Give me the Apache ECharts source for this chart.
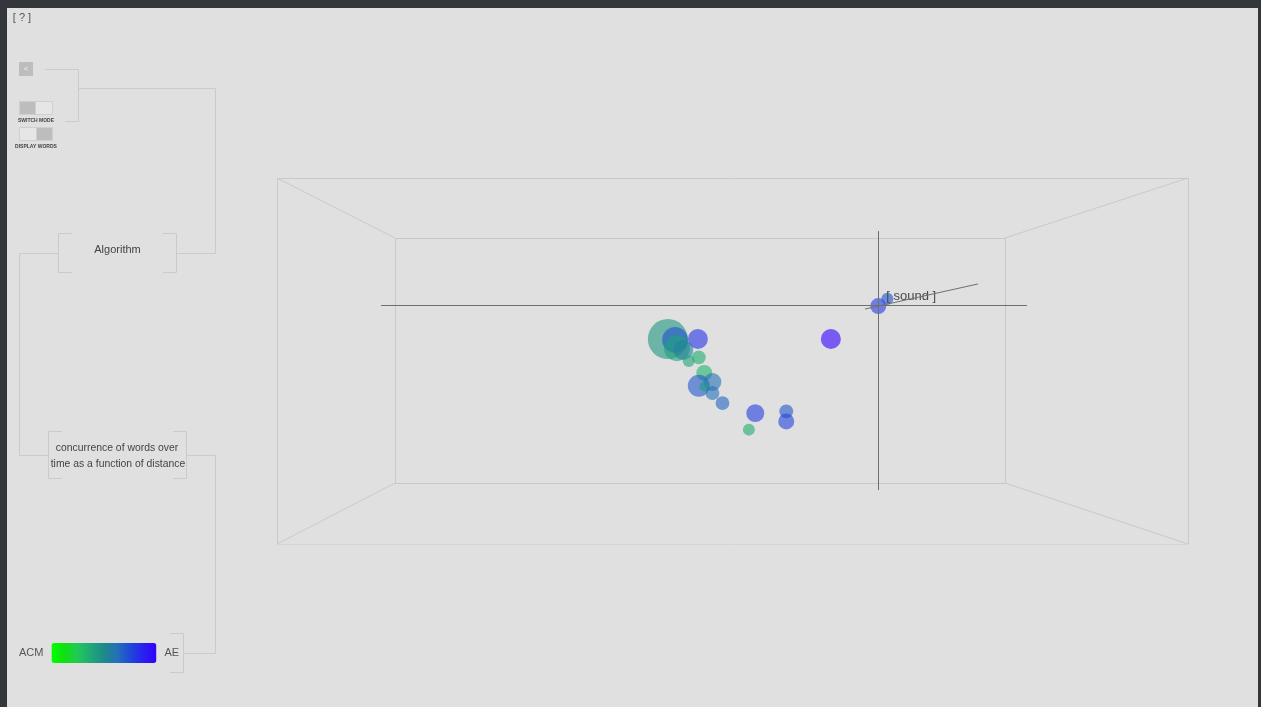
<!DOCTYPE html>
<html>
<head>
<meta charset="utf-8">
<script src="https://cdn.jsdelivr.net/npm/echarts@6/dist/echarts.min.js"></script>
<style>
html,body{margin:0;padding:0;background:#e0e0e0;}
#chart{width:1261px;height:707px;}
</style>
</head>
<body>
<div id="chart"></div>
<script>
// ---- data (scene units: x 0..100, y 0..40) ----
var wordX = [42.9, 43.7, 46.2, 43.9, 44.6, 46.3, 45.2, 46.9, 46.3, 47.8, 46.9, 47.8, 48.9, 52.5, 51.8, 55.9, 55.9, 60.8, 66.0, 67.0];
var wordY = [22.4, 22.3, 22.4, 21.4, 21.2, 20.4, 20.0, 18.7, 17.3, 17.7, 17.2, 16.5, 15.4, 14.3, 12.5, 14.5, 13.4, 22.4, 26.0, 26.8];
var wordCount = [100, 42, 25, 42, 25, 12, 9, 16, 30, 20, 6, 12, 12, 20, 9, 12, 16, 25, 16, 9];
var wordSource = [0.45, 0.72, 0.82, 0.4, 0.55, 0.35, 0.38, 0.33, 0.7, 0.62, 0.42, 0.62, 0.66, 0.78, 0.35, 0.7, 0.77, 1.0, 0.8, 0.72];
var focusWord = 'sound';
var focusIndex = 18;
var sourceNames = ['ACM', 'AE'];
var sourceColors = ['#00ff00', '#10e010', '#22c858', '#20a878', '#1e8a88', '#2570b8', '#1f48d8', '#2a20f0', '#3300ff'];

// scene frame (outer box, inner box) and focus crosshair, in scene units
var outerBox = [[0, 0], [100, 0], [100, 40], [0, 40]];
var innerBox = [[12.95, 6.67], [79.91, 6.67], [79.91, 33.44], [12.95, 33.44]];
var crossV = [[65.97, 5.9], [65.97, 34.2]];
var crossH = [[11.42, 26.12], [82.33, 26.12]];
var crossZ = [[64.55, 25.68], [76.95, 28.42]];

var panelText = {
  help: '[ ? ]',
  back: '<',
  switchMode: 'SWITCH MODE',
  displayWords: 'DISPLAY WORDS',
  algorithm: 'Algorithm',
  desc1: 'concurrence of words over',
  desc2: 'time as a function of distance'
};

// ---- build ----
var frameSegs = [];
for (var i = 0; i < 4; i++) {
  frameSegs.push({coords: [outerBox[i], outerBox[(i + 1) % 4]]});
  frameSegs.push({coords: [innerBox[i], innerBox[(i + 1) % 4]]});
  frameSegs.push({coords: [outerBox[i], innerBox[i]]});
}
var crossSegs = [{coords: crossV}, {coords: crossH}, {coords: crossZ}];

var scatterData = wordX.map(function (x, i) {
  return [x, wordY[i], wordCount[i], wordSource[i]];
});

var LINE = '#cbcbcb';
var FONT = '"Liberation Sans", Arial, Helvetica, sans-serif';
function seg(x1, y1, x2, y2) {
  return {type: 'line', silent: true, shape: {x1: x1, y1: y1, x2: x2, y2: y2},
    style: {stroke: LINE, lineWidth: 1}};
}
function txt(x, y, s, size, color, weight) {
  return {type: 'text', silent: true, x: x, y: y,
    style: {text: s, font: (weight || 'normal') + ' ' + size + 'px ' + FONT, fill: color,
      align: 'center', verticalAlign: 'middle'}};
}

var graphics = [
  // page border
  {type: 'rect', shape: {x: 0, y: 0, width: 1261, height: 8}, style: {fill: '#33373b'}, silent: true},
  {type: 'rect', shape: {x: 0, y: 0, width: 7, height: 707}, style: {fill: '#33373b'}, silent: true},
  {type: 'rect', shape: {x: 1258, y: 0, width: 3, height: 707}, style: {fill: '#33373b'}, silent: true},
  txt(22, 17.5, panelText.help, 11, '#555'),
  // back button
  {type: 'rect', silent: true, shape: {x: 19, y: 62, width: 14, height: 14}, style: {fill: '#bdbdbd', stroke: null}},
  txt(26, 69, panelText.back, 7, '#f4f4f4'),
  // toggles
  {type: 'rect', silent: true, shape: {x: 19.5, y: 101.5, width: 33, height: 13}, style: {fill: '#e6e6e6', stroke: '#cfcfcf'}},
  {type: 'rect', silent: true, shape: {x: 19.5, y: 101.5, width: 16, height: 13}, style: {fill: '#bdbdbd', stroke: '#cfcfcf'}},
  txt(36, 121, panelText.switchMode, 5, '#444', 'bold'),
  {type: 'rect', silent: true, shape: {x: 19.5, y: 127.5, width: 33, height: 13}, style: {fill: '#e6e6e6', stroke: '#cfcfcf'}},
  {type: 'rect', silent: true, shape: {x: 36.5, y: 127.5, width: 16, height: 13}, style: {fill: '#bdbdbd', stroke: '#cfcfcf'}},
  txt(36, 147, panelText.displayWords, 5, '#444', 'bold'),
  // connectors
  seg(45, 69.5, 78.5, 69.5), seg(78.5, 69.5, 78.5, 121.5), seg(65, 121.5, 78.5, 121.5),
  seg(78.5, 88.5, 215.5, 88.5), seg(215.5, 88.5, 215.5, 253.5), seg(177, 253.5, 215.5, 253.5),
  // Algorithm bracket
  seg(58.5, 233.5, 58.5, 272.5), seg(58.5, 233.5, 72, 233.5), seg(58.5, 272.5, 72, 272.5),
  seg(176.5, 233.5, 176.5, 272.5), seg(163, 233.5, 176.5, 233.5), seg(163, 272.5, 176.5, 272.5),
  txt(117.5, 249.5, panelText.algorithm, 11, '#444'),
  seg(19.5, 253.5, 58.5, 253.5), seg(19.5, 253.5, 19.5, 455.5), seg(19.5, 455.5, 48.5, 455.5),
  // description bracket
  seg(48.5, 431.5, 48.5, 478.5), seg(48.5, 431.5, 62, 431.5), seg(48.5, 478.5, 62, 478.5),
  seg(186.5, 431.5, 186.5, 478.5), seg(173, 431.5, 186.5, 431.5), seg(173, 478.5, 186.5, 478.5),
  txt(117, 448, panelText.desc1, 10.4, '#444'),
  txt(118, 464, panelText.desc2, 10.4, '#444'),
  seg(186.5, 455.5, 215.5, 455.5), seg(215.5, 455.5, 215.5, 653.5), seg(183.5, 653.5, 215.5, 653.5),
  // legend bracket
  seg(183.5, 633.5, 183.5, 672.5), seg(170, 633.5, 183.5, 633.5), seg(170, 672.5, 183.5, 672.5)
];

var chart = echarts.init(document.getElementById('chart'), null, {renderer: 'canvas'});
chart.setOption({
  backgroundColor: '#e0e0e0',
  animation: false,
  grid: {left: 277, top: 178, width: 911, height: 366, show: false},
  xAxis: {type: 'value', min: 0, max: 100, show: false},
  yAxis: {type: 'value', min: 0, max: 40, show: false},
  visualMap: {
    type: 'continuous',
    min: 0, max: 1,
    dimension: 3,
    seriesIndex: 2,
    orient: 'horizontal',
    left: 19, top: 643,
    padding: 0,
    itemWidth: 20,
    itemHeight: 105,
    textGap: 8,
    calculable: false,
    hoverLink: false,
    text: [sourceNames[1], sourceNames[0]],
    textStyle: {color: '#555', fontSize: 11, fontFamily: FONT},
    inRange: {color: sourceColors}
  },
  graphic: graphics,
  series: [
    {
      type: 'lines', coordinateSystem: 'cartesian2d', silent: true, z: 1,
      lineStyle: {color: '#c9c9c9', width: 1, opacity: 1},
      data: frameSegs
    },
    {
      type: 'lines', coordinateSystem: 'cartesian2d', silent: true, z: 3,
      lineStyle: {color: '#6f6f6f', width: 1, opacity: 1},
      data: crossSegs
    },
    {
      type: 'scatter', z: 2,
      data: scatterData,
      symbolSize: function (v) { return 4 * Math.sqrt(v[2]); },
      itemStyle: {opacity: 0.6},
      emphasis: {disabled: true},
      label: {
        show: true,
        position: 'right',
        distance: 0,
        offset: [0, -10],
        color: '#4a4a4a',
        opacity: 1,
        fontSize: 13,
        fontFamily: FONT,
        formatter: function (p) { return p.dataIndex === focusIndex ? '[ ' + focusWord + ' ]' : ''; }
      }
    }
  ]
});
</script>
</body>
</html>
